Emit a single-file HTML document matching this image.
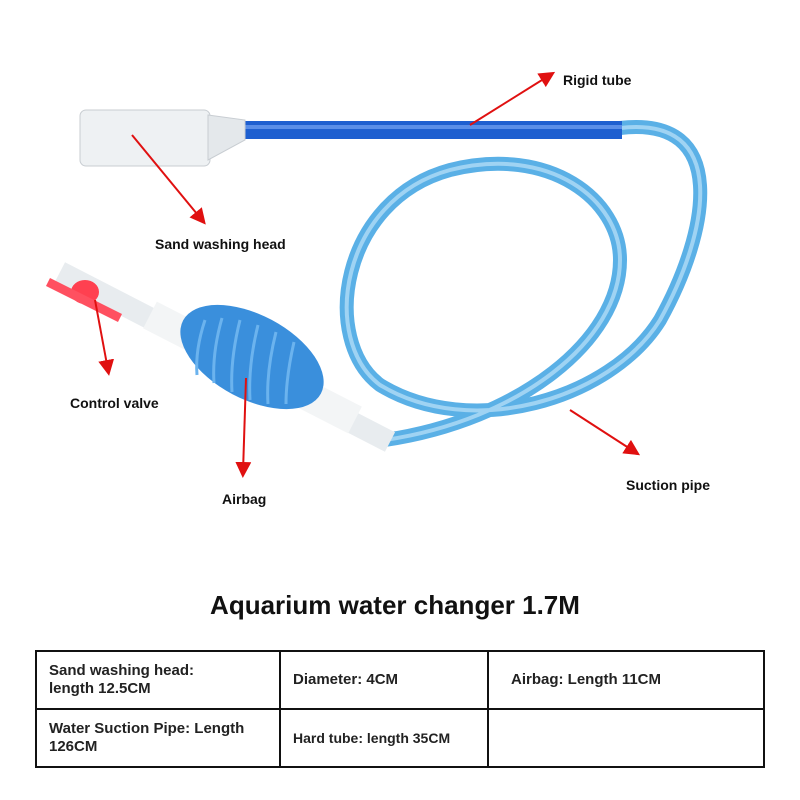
<!DOCTYPE html>
<html><head><style>
body{margin:0;width:800px;height:800px;background:#fff;overflow:hidden;font-family:"Liberation Sans",sans-serif;position:relative}
.l{position:absolute;font-weight:bold;font-size:14px;color:#111}
table{position:absolute;left:35px;top:650px;width:730px;height:118px;border-collapse:collapse}
td{border:2px solid #111;font-size:15px;font-weight:bold;color:#222;padding:0 12px;vertical-align:middle;line-height:18px}
</style></head><body>
<svg width="800" height="800" style="position:absolute;left:0;top:0">
<defs><marker id="a" markerWidth="8" markerHeight="8" refX="5" refY="4" orient="auto"><path d="M0,0L8,4L0,8z" fill="#e01010"/></marker></defs>
<path d="M620,128 C730,115 710,230 660,320 C610,400 470,440 380,385 C320,340 340,200 450,170 C550,145 620,200 620,260 C620,340 520,420 385,440" fill="none" stroke="#5ab0e6" stroke-width="14"/>
<path d="M620,128 C730,115 710,230 660,320 C610,400 470,440 380,385 C320,340 340,200 450,170 C550,145 620,200 620,260 C620,340 520,420 385,440" fill="none" stroke="#9fd3f3" stroke-width="4"/>
<rect x="240" y="121" width="382" height="18" fill="#1e5fd0"/>
<rect x="240" y="125" width="382" height="4" fill="#5a8ee8"/>
<rect x="80" y="110" width="130" height="56" rx="6" fill="#eef1f3" stroke="#c8cdd2"/>
<path d="M208,115 L245,120 L245,140 L208,160z" fill="#e4e8eb" stroke="#c8cdd2"/>
<path d="M60,272 L390,442" stroke="#e8ecef" stroke-width="22" fill="none"/>
<path d="M150,315 L355,420" stroke="#f3f5f6" stroke-width="30" fill="none"/>
<ellipse cx="252" cy="357" rx="78" ry="42" fill="#3a8fdc" transform="rotate(28 252 357)"/>
<g stroke="#6bb3ee" stroke-width="3" fill="none">
<path d="M205,320 q-10,30 -8,55"/><path d="M222,318 q-10,35 -8,65"/><path d="M240,320 q-10,40 -8,72"/><path d="M258,325 q-10,40 -8,75"/><path d="M276,332 q-10,40 -8,72"/><path d="M294,342 q-8,35 -8,62"/>
</g>
<ellipse cx="85" cy="292" rx="14" ry="12" fill="#ff4050"/>
<path d="M48,282 L120,318" stroke="#ff5060" stroke-width="9"/>
<g stroke="#e01010" stroke-width="2" marker-end="url(#a)">
<line x1="470" y1="125" x2="550" y2="75"/>
<line x1="132" y1="135" x2="202" y2="220"/>
<line x1="95" y1="300" x2="108" y2="370"/>
<line x1="246" y1="378" x2="243" y2="472"/>
<line x1="570" y1="410" x2="635" y2="452"/>
</g>
</svg>
<div class="l" style="left:563px;top:72px">Rigid tube</div>
<div class="l" style="left:155px;top:236px">Sand washing head</div>
<div class="l" style="left:70px;top:395px">Control valve</div>
<div class="l" style="left:222px;top:491px">Airbag</div>
<div class="l" style="left:626px;top:477px">Suction pipe</div>
<div style="position:absolute;left:0;width:790px;text-align:center;top:590px;font-size:26px;font-weight:bold;color:#111">Aquarium water changer 1.7M</div>
<table>
<tr><td style="width:218px">Sand washing head:<br>length 12.5CM</td><td style="width:182px">Diameter: 4CM</td><td style="padding-left:22px">Airbag: Length 11CM</td></tr>
<tr><td>Water Suction Pipe: Length<br>126CM</td><td style="font-size:14px">Hard tube: length 35CM</td><td></td></tr>
</table>
</body></html>
